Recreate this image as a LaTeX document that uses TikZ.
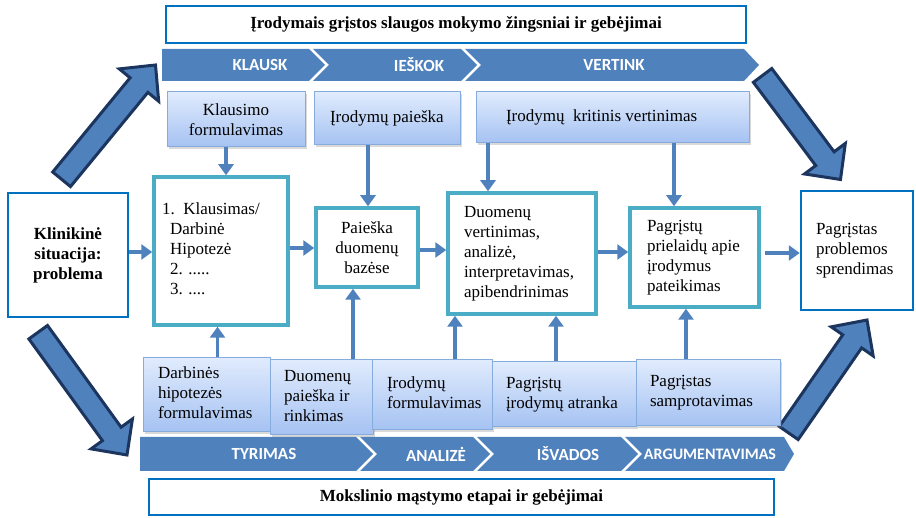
\documentclass[tikz,border=0pt]{standalone}
\usepackage{fontspec}
\setmainfont{Liberation Serif}
\newfontfamily\chevfont{Carlito}
\usetikzlibrary{calc,arrows.meta,shadows}

\definecolor{barblue}{HTML}{4F81BD}
\definecolor{navyedge}{HTML}{1C355E}
\definecolor{tealedge}{HTML}{4BACC6}
\definecolor{frameblue}{HTML}{0070C0}
\definecolor{lbtop}{HTML}{E0EBFD}
\definecolor{lbbot}{HTML}{A5C2F2}
\definecolor{lbedge}{HTML}{86ABDD}

% left-aligned block of lines occupying a fixed width
\newcommand\leftlines[2]{\makebox[#1][l]{\begin{tabular}{@{}l@{}}#2\end{tabular}}}

% thick block arrow from a tail point to a tip point
\newcommand\blockarrow[2]{%
  \path ($(#2)!26pt!(#1)$) coordinate (hb);
  \filldraw[bigarrow]
    ($(#1)!11.5pt!90:(#2)$) -- ($(hb)!11.5pt!90:(#2)$) -- ($(hb)!25.5pt!90:(#2)$)
    -- (#2)
    -- ($(hb)!25.5pt!-90:(#2)$) -- ($(hb)!11.5pt!-90:(#2)$) -- ($(#1)!11.5pt!-90:(#2)$)
    -- cycle;}

\begin{document}
\begin{tikzpicture}[x=1pt,y=-1pt,
  txt/.style={font=\fontsize{17}{20}\selectfont, inner ysep=0pt},
  titlebox/.style={draw=frameblue, line width=2.5pt, fill=white, inner ysep=0pt,
                   font=\bfseries\fontsize{17}{20}\selectfont},
  framebox/.style={draw=frameblue, line width=2.5pt, fill=white, txt},
  tealbox/.style={draw=tealedge, line width=3.5pt, fill=white, txt},
  lightbox/.style={draw=lbedge, line width=1pt, top color=lbtop, bottom color=lbbot,
                   drop shadow={shadow xshift=2pt, shadow yshift=-2pt, opacity=0.3}, txt},
  conn/.style={draw=barblue, line width=3.5pt, -{Triangle[length=11pt,width=15pt]}},
  chev/.style={fill=barblue},
  chevtext/.style={text=white, font=\chevfont\bfseries\fontsize{17}{20}\selectfont},
  bigarrow/.style={fill=barblue, draw=navyedge, line width=3pt, line join=miter}
]
\useasboundingbox (0,0) rectangle (916,518);

% big block arrows
\coordinate (a1t) at (61.6,179.3);  \coordinate (a1h) at (155.5,65);
\coordinate (a2t) at (762.6,75.4);  \coordinate (a2h) at (840.5,179.5);
\coordinate (a3t) at (38.2,332.2);  \coordinate (a3h) at (127,455);
\coordinate (a4t) at (788.7,433);   \coordinate (a4h) at (867,320);
\blockarrow{a1t}{a1h}
\blockarrow{a2t}{a2h}
\blockarrow{a3t}{a3h}
\blockarrow{a4t}{a4h}

% titles
\node[titlebox, minimum width=580pt, minimum height=37pt] (ttop) at (456,24.5)
  {Įrodymais grįstos slaugos mokymo žingsniai ir gebėjimai};
\node[titlebox, minimum width=625pt, minimum height=36pt] (tbot) at (461.5,497)
  {Mokslinio mąstymo etapai ir gebėjimai};

% upper chevron bar
\fill[chev] (162,49) -- (309,49) -- (325,65) -- (309,81) -- (162,81) -- cycle;
\fill[chev] (313,49) -- (461,49) -- (477,65) -- (461,81) -- (313,81) -- (329,65) -- cycle;
\fill[chev] (465,49) -- (744,49) -- (759,65) -- (744,81) -- (465,81) -- (481,65) -- cycle;
\node[chevtext] (c1) at (260,65) {KLAUSK};
\node[chevtext] (c2) at (419,65) {IEŠKOK};
\node[chevtext] (c3) at (614,65) {VERTINK};

% lower chevron bar
\fill[chev] (140,437) -- (356,437) -- (373,454) -- (356,471) -- (140,471) -- cycle;
\fill[chev] (360,437) -- (473,437) -- (490,454) -- (473,471) -- (360,471) -- (377,454) -- cycle;
\fill[chev] (477,437) -- (621,437) -- (638,454) -- (621,471) -- (477,471) -- (494,454) -- cycle;
\fill[chev] (625,437) -- (784,437) -- (794,454) -- (784,471) -- (625,471) -- (642,454) -- cycle;
\node[chevtext] (d1) at (264,454) {TYRIMAS};
\node[chevtext] (d2) at (436,454) {ANALIZĖ};
\node[chevtext] (d3) at (568,454) {IŠVADOS};
\node[chevtext, font=\chevfont\bfseries\fontsize{16}{19}\selectfont] (d4) at (710,454) {ARGUMENTAVIMAS};

% upper step boxes
\node[lightbox, minimum width=138pt, minimum height=55pt, align=center] (kf) at (236,119.5)
  {Klausimo\\formulavimas};
\node[lightbox, minimum width=146pt, minimum height=53pt, inner xsep=16pt] (ip) at (387,118.5)
  {\leftlines{114pt}{Įrodymų paieška}};
\node[lightbox, minimum width=273pt, minimum height=51pt, inner xsep=30pt] (kv) at (612.5,117.5)
  {\leftlines{213pt}{Įrodymų\ \ kritinis vertinimas}};

% central process boxes
\node[framebox, minimum width=120pt, minimum height=124pt, align=center, font=\bfseries\fontsize{17}{20}\selectfont] (kl) at (68,255)
  {Klinikinė\\situacija:\\problema};
\node[tealbox, minimum width=134pt, minimum height=148pt, inner xsep=8pt] (list) at (221,251)
  {\leftlines{118pt}{1.\ \ Klausimas/\\\hspace*{8pt}Darbinė\\\hspace*{8pt}Hipotezė\\\hspace*{8pt}2. .....\\\hspace*{8pt}3. ....}};
\node[tealbox, minimum width=102pt, minimum height=79pt, align=center] (pdb) at (367,247.5)
  {Paieška\\duomenų\\bazėse};
\node[tealbox, minimum width=148pt, minimum height=121pt, inner xsep=16pt] (dv) at (522,253.5)
  {\leftlines{116pt}{Duomenų\\vertinimas,\\analizė,\\interpretavimas,\\apibendrinimas}};
\node[tealbox, minimum width=129pt, minimum height=99pt, inner xsep=17pt] (pp) at (694.5,257.5)
  {\leftlines{95pt}{Pagrįstų\\prielaidų apie\\įrodymus\\pateikimas}};
\node[framebox, minimum width=112pt, minimum height=119pt, inner xsep=15pt] (ps) at (857,250.5)
  {\leftlines{82pt}{Pagrįstas\\problemos\\sprendimas}};

% lower step boxes
\node[lightbox, minimum width=127pt, minimum height=74pt, inner xsep=15pt] (dh) at (206.5,395)
  {\leftlines{97pt}{Darbinės\\hipotezės\\formulavimas}};
\node[lightbox, minimum width=103pt, minimum height=75pt, inner xsep=14pt] (dp) at (321.5,397.5)
  {\leftlines{75pt}{Duomenų\\paieška ir\\rinkimas}};
\node[lightbox, minimum width=120pt, minimum height=70pt, inner xsep=15pt] (if) at (432,395)
  {\leftlines{90pt}{Įrodymų\\formulavimas}};
\node[lightbox, minimum width=144pt, minimum height=65pt, inner xsep=14pt] (pa) at (564,394.5)
  {\leftlines{116pt}{Pagrįstų\\įrodymų atranka}};
\node[lightbox, minimum width=144pt, minimum height=66pt, inner xsep=14pt] (sa) at (708,393)
  {\leftlines{116pt}{Pagrįstas\\samprotavimas}};

% connectors: from upper steps down
\draw[conn] ([xshift=-10pt]kf.south) -- ([xshift=5pt]list.north);
\draw[conn] ([xshift=-19pt]ip.south) -- ([xshift=1pt]pdb.north);
\draw[conn] ([xshift=-124.5pt]kv.south) -- ([xshift=-34pt]dv.north);
\draw[conn] ([xshift=61.5pt]kv.south) -- ([xshift=-20.5pt]pp.north);

% connectors: from lower steps up
\draw[conn] ([xshift=11pt]dh.north) -- ([xshift=-3.5pt]list.south);
\draw[conn] ([xshift=31.5pt]dp.north) -- ([xshift=-14pt]pdb.south);
\draw[conn] ([xshift=23pt]if.north) -- ([xshift=-67pt]dv.south);
\draw[conn] ([xshift=-8pt]pa.north) -- ([xshift=34pt]dv.south);
\draw[conn] ([xshift=-22pt]sa.north) -- ([xshift=-8.5pt]pp.south);

% connectors: along the central row
\draw[conn] ([yshift=3pt]kl.east) -- ([yshift=-1pt]list.west);
\draw[conn] ([yshift=3pt]list.east) -- ([yshift=-0.5pt]pdb.west);
\draw[conn] ([yshift=-2.5pt]pdb.east) -- ([yshift=3.5pt]dv.west);
\draw[conn] ([yshift=1.5pt]dv.east) -- ([yshift=5.5pt]pp.west);
\draw[conn] ([xshift=4pt,yshift=4.5pt]pp.east) -- ([yshift=-2.5pt]ps.west);
\end{tikzpicture}
\end{document}
